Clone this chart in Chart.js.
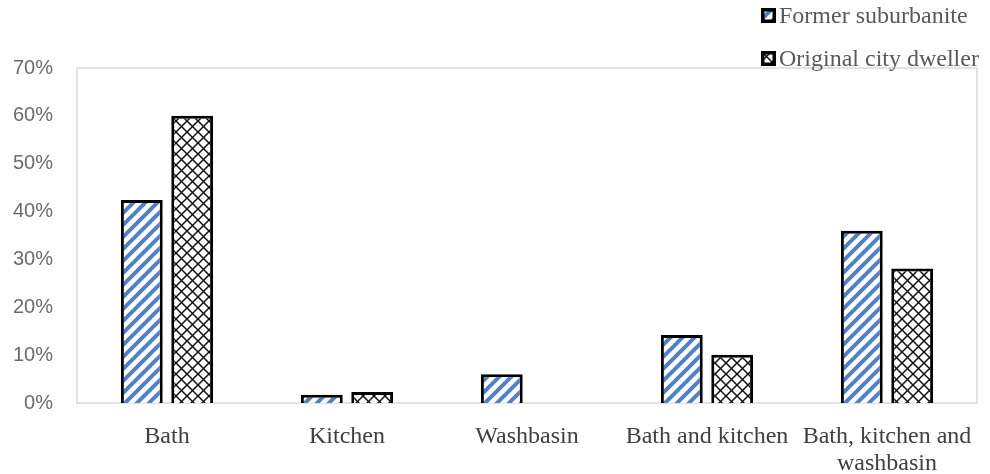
<!DOCTYPE html>
<html>
<head>
<meta charset="utf-8">
<script src="https://cdn.jsdelivr.net/npm/chart.js@4/dist/chart.umd.min.js"></script>
<style>
  body { margin: 0; background: #fff; }
  .wrap { position: relative; width: 990px; height: 474px; }
  .legend { position: absolute; left: 761px; font-family: "Liberation Serif", serif; font-size: 24px; color: #595959; white-space: nowrap; }
  .legend canvas { vertical-align: middle; margin-right: 3px; position: relative; top: -2px; }
</style>
</head>
<body>
<div class="wrap">
  <canvas id="myChart" width="990" height="474"></canvas>
  <div class="legend" style="top:2px"><canvas id="sw1" width="15" height="15"></canvas>Former suburbanite</div>
  <div class="legend" style="top:45px"><canvas id="sw2" width="15" height="15"></canvas>Original city dweller</div>
</div>
<script>
let categories = ["Bath", "Kitchen", "Washbasin", "Bath and kitchen", ["Bath, kitchen and", "washbasin"]];
let formerSuburbanite = [42.4, 1.7, 6.0, 14.2, 36.0];
let originalCityDweller = [60.0, 2.3, 0, 10.1, 28.1];
let yTicks = [0, 10, 20, 30, 40, 50, 60, 70];

// hatch fills
function stripePattern() {
    let c = document.createElement("canvas");
    c.width = 12; c.height = 12;
    let g = c.getContext("2d");
    g.fillStyle = "#fff";
    g.fillRect(0, 0, 12, 12);
    g.strokeStyle = "#4f81c4";
    g.lineWidth = 4;
    for (let o = -12; o <= 12; o += 12) {
        g.beginPath();
        g.moveTo(o - 1, 13);
        g.lineTo(o + 13, -1);
        g.stroke();
    }
    return g.createPattern(c, "repeat");
}

function crossPattern() {
    let c = document.createElement("canvas");
    c.width = 11; c.height = 11;
    let g = c.getContext("2d");
    g.fillStyle = "#fff";
    g.fillRect(0, 0, 11, 11);
    g.strokeStyle = "#111";
    g.lineWidth = 1.5;
    g.beginPath();
    g.moveTo(0, 0); g.lineTo(11, 11);
    g.moveTo(11, 0); g.lineTo(0, 11);
    g.stroke();
    return g.createPattern(c, "repeat");
}

function drawSwatch(id, fill) {
    let g = document.getElementById(id).getContext("2d");
    g.fillStyle = fill;
    g.fillRect(0, 0, 15, 15);
    g.strokeStyle = "#000";
    g.lineWidth = 3.5;
    g.strokeRect(1.75, 1.75, 11.5, 11.5);
}

let stripes = stripePattern();
let cross = crossPattern();
drawSwatch("sw1", stripes);
drawSwatch("sw2", cross);

let boxPlugin = {
    id: "box",
    beforeDatasetsDraw(chart) {
        let a = chart.chartArea;
        let ctx = chart.ctx;
        ctx.save();
        ctx.strokeStyle = "#d9d9d9";
        ctx.lineWidth = 1.5;
        ctx.strokeRect(a.left, a.top, a.right - a.left, a.bottom - a.top);
        ctx.restore();
    }
};

var ctx = document.getElementById("myChart");
var myChart = new Chart(ctx, {
    type: "bar",
    data: {
        labels: categories,
        datasets: [{
            label: "Former suburbanite",
            data: formerSuburbanite,
            backgroundColor: stripes,
            borderColor: "#000",
            borderWidth: 3
        }, {
            label: "Original city dweller",
            data: originalCityDweller,
            backgroundColor: cross,
            borderColor: "#000",
            borderWidth: 3
        }]
    },
    options: {
        responsive: false,
        animation: false,
        categoryPercentage: 0.56,
        barPercentage: 0.83,
        layout: { padding: { left: 0, right: 13, top: 68, bottom: 0 } },
        plugins: {
            legend: { display: false },
            tooltip: { enabled: false }
        },
        scales: {
            x: {
                grid: { display: false },
                border: { display: false },
                ticks: {
                    color: "#404040",
                    padding: 12,
                    maxRotation: 0,
                    autoSkip: false,
                    font: { family: "'Liberation Serif', serif", size: 24, lineHeight: 1.12 }
                },
                afterFit(scale) { scale.height = 71; }
            },
            y: {
                min: 0,
                max: 70,
                grid: { display: false },
                border: { display: false },
                afterBuildTicks(scale) { scale.ticks = yTicks.map(v => ({ value: v })); },
                ticks: {
                    color: "#6b6b6b",
                    padding: 16,
                    font: { family: "'Liberation Sans', sans-serif", size: 20 },
                    callback: v => v + "%"
                },
                afterFit(scale) { scale.width = 77; }
            }
        }
    },
    plugins: [boxPlugin]
});
</script>
</body>
</html>
